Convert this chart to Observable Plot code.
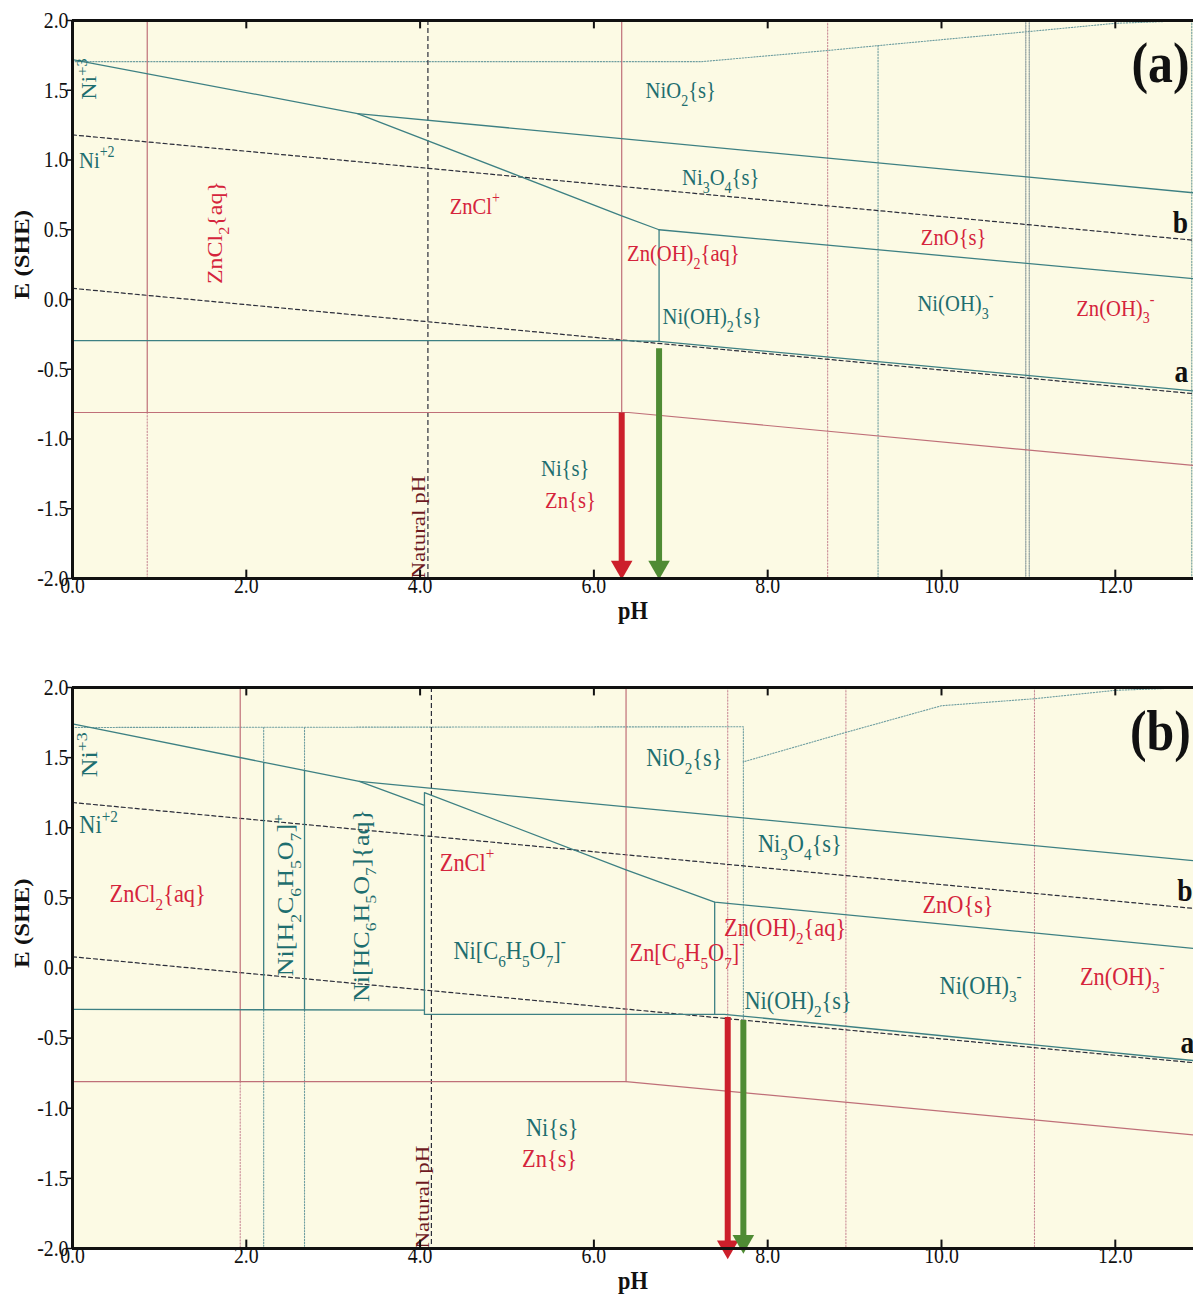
<!DOCTYPE html>
<html><head><meta charset="utf-8">
<script src="https://cdn.jsdelivr.net/npm/d3@7"></script>
<script src="https://cdn.jsdelivr.net/npm/@observablehq/plot@0.6"></script>
<style>
html,body{margin:0;padding:0;background:#fff;overflow:hidden;width:1193px;height:1302px}
#chart svg{display:block}
</style></head><body><div id="chart"></div>
<script>
// ---------- shared ticks ----------
const phTicks = [0, 2, 4, 6, 8, 10, 12];
const eTicks = [2, 1.5, 1, 0.5, 0, -0.5, -1, -1.5, -2];

// water stability lines (b = O2/H2O, a = H2O/H2)
const waterLineB = [[0, 1.18], [12.9, 0.425]];
const waterLineA = [[0, 0.08], [12.9, -0.675]];

// ---------- panel (a) ----------
const aNaturalPH = 4.09;
const aNiSolid = [
  [[0, 1.72], [3.28, 1.333], [6.32, 0.60], [6.75, 0.50]],
  [[3.28, 1.333], [12.9, 0.765]],
  [[6.75, 0.50], [12.9, 0.15]],
  [[6.75, 0.50], [6.75, -0.30]],
  [[0, -0.295], [6.32, -0.295], [6.75, -0.30], [12.9, -0.655]]
];
const aNiDotted = [
  [[0, 1.705], [7.24, 1.705], [8.69, 1.785], [9.27, 1.82], [10.99, 1.92], [12.0, 1.98], [12.9, 2.0]],
  [[9.27, 1.82], [9.27, -2]],
  [[12.88, 2], [12.88, -2]]
];
const aMixedDotted = [[[10.97, 2], [10.97, -2]], [[11.01, 2], [11.01, -2]]];
const aZnSolid = [
  [[0, -0.81], [6.4, -0.81], [12.9, -1.19]],
  [[0.86, 2], [0.86, -0.81]],
  [[6.32, 2], [6.32, -0.81]]
];
const aZnDotted = [
  [[0.86, -0.81], [0.86, -2]],
  [[8.69, 2], [8.69, -2]]
];
const aArrows = [
  {metal: "Zn", pH: 6.32, from: -0.81, to: -2.0},
  {metal: "Ni", pH: 6.75, from: -0.35, to: -2.0}
];
const aLabels = [
  {t: "Ni^+3", pH: 0.2, E: 1.58, metal: "Ni", rotate: -90},
  {t: "Ni^+2", pH: 0.28, E: 1.0, metal: "Ni"},
  {t: "ZnCl_2{aq}", pH: 1.65, E: 0.48, metal: "Zn", rotate: -90},
  {t: "ZnCl^+", pH: 4.63, E: 0.67, metal: "Zn"},
  {t: "NiO_2{s}", pH: 7.0, E: 1.5, metal: "Ni"},
  {t: "Ni_3O_4{s}", pH: 7.46, E: 0.875, metal: "Ni"},
  {t: "Zn(OH)_2{aq}", pH: 7.03, E: 0.33, metal: "Zn"},
  {t: "ZnO{s}", pH: 10.14, E: 0.445, metal: "Zn"},
  {t: "Ni(OH)_2{s}", pH: 7.36, E: -0.12, metal: "Ni"},
  {t: "Ni(OH)_3^-", pH: 10.16, E: -0.03, metal: "Ni"},
  {t: "Zn(OH)_3^-", pH: 12.0, E: -0.06, metal: "Zn"},
  {t: "Ni{s}", pH: 5.67, E: -1.21, metal: "Ni"},
  {t: "Zn{s}", pH: 5.73, E: -1.44, metal: "Zn"}
];
const aTags = [
  {t: "(a)", pH: 12.52, E: 1.69, big: true},
  {t: "b", pH: 12.75, E: 0.55},
  {t: "a", pH: 12.76, E: -0.52}
];

// ---------- panel (b) ----------
const bNaturalPH = 4.13;
const bNiSolid = [
  [[0, 1.74], [3.3, 1.33], [4.05, 1.16]],
  [[3.3, 1.33], [12.9, 0.765]],
  [[4.05, -0.33], [4.05, 1.25], [6.37, 0.70], [7.39, 0.47], [12.9, 0.14]],
  [[7.39, 0.47], [7.39, -0.33]],
  [[0, -0.295], [4.05, -0.30]],
  [[4.05, -0.33], [7.5, -0.33], [12.9, -0.66]],
  [[2.2, 1.46], [2.2, -0.30]],
  [[2.67, 1.405], [2.67, -0.30]]
];
const bNiDotted = [
  [[0, 1.715], [7.72, 1.72], [7.72, 1.47], [8.9, 1.68], [10.0, 1.87], [11.07, 1.92], [12.0, 1.98], [12.9, 2.0]],
  [[7.72, 1.47], [7.72, -2]],
  [[2.2, 1.715], [2.2, 1.46]], [[2.2, -0.30], [2.2, -2]],
  [[2.67, 1.715], [2.67, 1.405]], [[2.67, -0.30], [2.67, -2]]
];
const bMixedDotted = [];
const bZnSolid = [
  [[0, -0.81], [6.37, -0.81], [12.9, -1.19]],
  [[1.93, 2], [1.93, -0.81]],
  [[6.37, 2], [6.37, -0.81]]
];
const bZnDotted = [
  [[1.93, -0.81], [1.93, -2]],
  [[7.54, 2], [7.54, -2]],
  [[8.9, 2], [8.9, -2]],
  [[11.07, 2], [11.07, -2]]
];
const bArrows = [
  {metal: "Zn", pH: 7.54, from: -0.35, to: -2.07},
  {metal: "Ni", pH: 7.72, from: -0.37, to: -2.03}
];
const bLabels = [
  {t: "Ni^+3", pH: 0.2, E: 1.52, metal: "Ni", rotate: -90},
  {t: "Ni^+2", pH: 0.3, E: 1.02, metal: "Ni"},
  {t: "ZnCl_2{aq}", pH: 0.98, E: 0.53, metal: "Zn"},
  {t: "Ni[H_2C_6H_5O_7]^+", pH: 2.46, E: 0.52, metal: "Ni", rotate: -90},
  {t: "Ni[HC_6H_5O_7]{aq}", pH: 3.33, E: 0.445, metal: "Ni", rotate: -90},
  {t: "ZnCl^+", pH: 4.54, E: 0.75, metal: "Zn"},
  {t: "Ni[C_6H_5O_7]^-", pH: 5.03, E: 0.125, metal: "Ni"},
  {t: "Zn[C_6H_5O_7]^-", pH: 7.07, E: 0.11, metal: "Zn"},
  {t: "NiO_2{s}", pH: 7.04, E: 1.5, metal: "Ni"},
  {t: "Ni_3O_4{s}", pH: 8.37, E: 0.89, metal: "Ni"},
  {t: "Zn(OH)_2{aq}", pH: 8.2, E: 0.29, metal: "Zn"},
  {t: "ZnO{s}", pH: 10.19, E: 0.45, metal: "Zn"},
  {t: "Ni(OH)_2{s}", pH: 8.35, E: -0.23, metal: "Ni"},
  {t: "Ni(OH)_3^-", pH: 10.45, E: -0.125, metal: "Ni"},
  {t: "Zn(OH)_3^-", pH: 12.08, E: -0.06, metal: "Zn"},
  {t: "Ni{s}", pH: 5.52, E: -1.14, metal: "Ni"},
  {t: "Zn{s}", pH: 5.49, E: -1.36, metal: "Zn"}
];
const bTags = [
  {t: "(b)", pH: 12.52, E: 1.69, big: true},
  {t: "b", pH: 12.8, E: 0.55},
  {t: "a", pH: 12.83, E: -0.53}
];

// ---------- styles ----------
const SERIF = "'Liberation Serif','Times New Roman',serif";
const BG = "#fcfae4";
const NI_LINE = "#3d8083", NI_DOT = "#6f9ea0", ZN_LINE = "#bf6f78", ZN_DOT = "#c98a96", DASH = "#2b2d3a";
const NI_TXT = "#1e6e6f", ZN_TXT = "#d5243c", ZN_ARROW = "#cc1f2b", NI_ARROW = "#4f8b34";
const SQUEEZE = 0.86;
const fmt1 = d => d.toFixed(1);
const rows = segs => segs.flatMap((s, i) => s.map(([pH, E]) => ({id: i, pH, E})));

function chem(el) {
  const s = el.textContent;
  if (!/[_^]/.test(s)) return;
  const holder = el.closest("[font-size]");
  const fs = holder ? parseFloat(holder.getAttribute("font-size")) : 22;
  const parts = [];
  let buf = "", i = 0;
  while (i < s.length) {
    const c = s[i];
    if (c === "_") { if (buf) parts.push({t: buf, k: 0}); buf = ""; parts.push({t: s[i + 1], k: 1}); i += 2; }
    else if (c === "^") { if (buf) parts.push({t: buf, k: 0}); buf = ""; parts.push({t: s.slice(i + 1), k: 2}); i = s.length; }
    else { buf += c; i++; }
  }
  if (buf) parts.push({t: buf, k: 0});
  el.textContent = "";
  let shift = 0;
  for (const p of parts) {
    const ts = document.createElementNS("http://www.w3.org/2000/svg", "tspan");
    const target = p.k === 1 ? 0.32 * fs : p.k === 2 ? -0.45 * fs : 0;
    ts.setAttribute("dy", (target - shift).toFixed(2));
    shift = target;
    if (p.k) ts.setAttribute("font-size", (0.68 * fs).toFixed(1));
    ts.textContent = p.t;
    el.appendChild(ts);
  }
}
function squeeze(el) {
  const tr = el.getAttribute("transform");
  if (tr) {
    el.setAttribute("transform", tr + (tr.includes("rotate(-90") ? ` scale(1,${SQUEEZE})` : ` scale(${SQUEEZE},1)`));
  } else {
    const x = +el.getAttribute("x") || 0, y = +el.getAttribute("y") || 0;
    el.removeAttribute("x"); el.removeAttribute("y");
    el.setAttribute("transform", `translate(${x},${y}) scale(${SQUEEZE},1)`);
  }
}

function panel(p) {
  const lab = (metal, rot) => p.labels.filter(d => d.metal === metal && (rot ? d.rotate : !d.rotate));
  const txt = metal => metal === "Ni" ? NI_TXT : ZN_TXT;
  const labelMarks = [];
  for (const m of ["Ni", "Zn"]) {
    labelMarks.push(Plot.text(lab(m, false), {x: "pH", y: "E", text: "t", fill: txt(m), fontSize: p.fs}));
    labelMarks.push(Plot.text(lab(m, true), {x: "pH", y: "E", text: "t", fill: txt(m), fontSize: p.fs, rotate: -90}));
  }
  const arrowMarks = [];
  for (const [m, c] of [["Zn", ZN_ARROW], ["Ni", NI_ARROW]]) {
    const a = p.arrows.filter(d => d.metal === m);
    arrowMarks.push(Plot.link(a, {x1: "pH", x2: "pH", y1: "from", y2: d => d.to + 0.09, stroke: c, strokeWidth: 6}));
    arrowMarks.push(Plot.dot(a, {x: "pH", y: "to", symbol: "triangle", rotate: 180, r: 8, fill: c, stroke: "none", dy: -11.5}));
  }
  const svg = Plot.plot({
    width: 1193, height: 651,
    marginLeft: 72, marginRight: 0, marginTop: p.top, marginBottom: p.bottom,
    x: {domain: [0, 12.9], axis: null},
    y: {domain: [-2, 2], axis: null},
    style: {fontFamily: SERIF, background: "#fff", overflow: "visible", color: "#111"},
    marks: [
      Plot.frame({fill: BG, stroke: "none"}),
      Plot.line(rows(p.znDotted), {x: "pH", y: "E", z: "id", stroke: ZN_DOT, strokeWidth: 1.1, strokeDasharray: "1.3,1.8"}),
      Plot.line(rows(p.niDotted), {x: "pH", y: "E", z: "id", stroke: NI_DOT, strokeWidth: 1.1, strokeDasharray: "1.3,1.6"}),
      Plot.line(rows(p.mixed), {x: "pH", y: "E", z: "id", stroke: "#8c9c9e", strokeWidth: 1.2, strokeDasharray: "1.2,1.2"}),
      Plot.line(rows([waterLineB, waterLineA]), {x: "pH", y: "E", z: "id", stroke: DASH, strokeWidth: 1.2, strokeDasharray: "4,3"}),
      Plot.ruleX([p.natural], {stroke: DASH, strokeWidth: 1.2, strokeDasharray: "5,3"}),
      Plot.line(rows(p.znSolid), {x: "pH", y: "E", z: "id", stroke: ZN_LINE, strokeWidth: 1.2}),
      Plot.line(rows(p.niSolid), {x: "pH", y: "E", z: "id", stroke: NI_LINE, strokeWidth: 1.3}),
      ...labelMarks,
      Plot.text(["Natural pH"], {x: p.natural, y: -2, text: d => d, rotate: -90, textAnchor: "start", dx: -9, fill: "#6e1a1f", fontSize: 23}),
      Plot.text(p.tags.filter(d => d.big), {x: "pH", y: "E", text: "t", fontWeight: "bold", fontSize: 58, fill: "#111"}),
      Plot.text(p.tags.filter(d => !d.big), {x: "pH", y: "E", text: "t", fontWeight: "bold", fontSize: 32, fill: "#111"}),
      ...arrowMarks,
      // frame
      Plot.ruleY([2, -2], {stroke: "#111", strokeWidth: 3}),
      Plot.ruleX([0], {stroke: "#111", strokeWidth: 3}),
      // ticks (x inward, y outward)
      Plot.ruleX(phTicks, {x: d => d, y1: -2, y2: -1.94, stroke: "#111", strokeWidth: 2}),
      Plot.ruleX(phTicks, {x: d => d, y1: 2, y2: 1.94, stroke: "#111", strokeWidth: 2}),
      Plot.ruleY(eTicks, {y: d => d, x1: -0.06, x2: 0, stroke: "#111", strokeWidth: 1.5}),
      Plot.text(phTicks, {x: d => d, frameAnchor: "bottom", dy: 14, text: fmt1, fontSize: 23, fill: "#111"}),
      Plot.text(eTicks, {y: d => d, frameAnchor: "left", textAnchor: "end", dx: -4, text: fmt1, fontSize: 23, fill: "#111"}),
      Plot.text(["E (SHE)"], {frameAnchor: "left", dx: -50, rotate: -90, text: d => d, fontWeight: "bold", fontSize: 25, fill: "#111"}),
      Plot.text(["pH"], {frameAnchor: "bottom", dy: 40, text: d => d, fontWeight: "bold", fontSize: 26, fill: "#111"})
    ]
  });
  svg.querySelectorAll("text").forEach(el => { chem(el); squeeze(el); });
  return svg;
}

const root = document.getElementById("chart");
root.appendChild(panel({top: 20, bottom: 73, fs: 24, natural: aNaturalPH, niSolid: aNiSolid, niDotted: aNiDotted,
  mixed: aMixedDotted, znSolid: aZnSolid, znDotted: aZnDotted, arrows: aArrows, labels: aLabels, tags: aTags}));
root.appendChild(panel({top: 36, bottom: 54, fs: 26, natural: bNaturalPH, niSolid: bNiSolid, niDotted: bNiDotted,
  mixed: bMixedDotted, znSolid: bZnSolid, znDotted: bZnDotted, arrows: bArrows, labels: bLabels, tags: bTags}));
</script></body></html>
